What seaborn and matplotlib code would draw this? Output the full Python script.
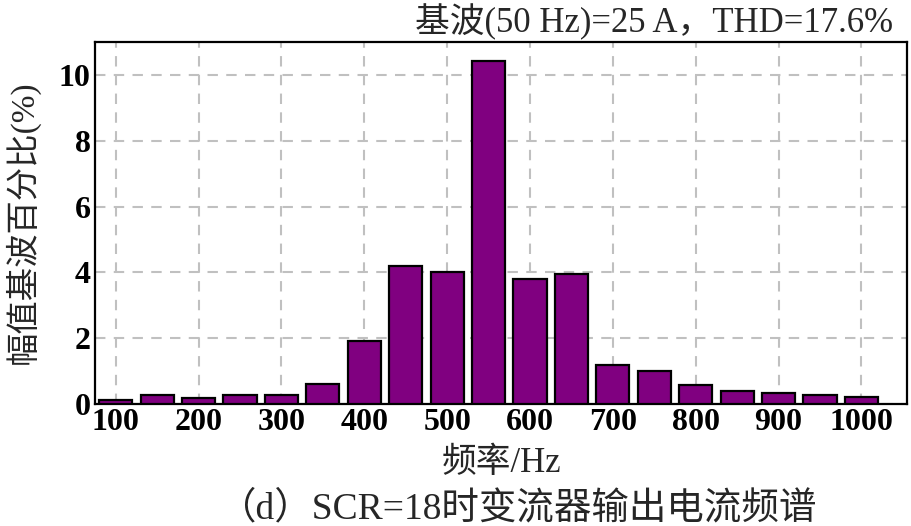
import numpy as np
import pandas as pd
import matplotlib
matplotlib.use('Agg')
import matplotlib.pyplot as plt
import seaborn as sns

# 데이터: 주파수별 고조파 크기 (기본파 대비 %)
freq_hz = [100, 150, 200, 250, 300, 350, 400, 450, 500, 550,
           600, 650, 700, 750, 800, 850, 900, 950, 1000]
amp_pct = [0.12, 0.27, 0.19, 0.27, 0.27, 0.61, 1.92, 4.19, 4.00, 10.42,
           3.79, 3.95, 1.18, 1.01, 0.58, 0.39, 0.34, 0.27, 0.22]
x_ticks = [100, 200, 300, 400, 500, 600, 700, 800, 900, 1000]
y_ticks = [0, 2, 4, 6, 8, 10]

title_txt = '基波(50 Hz)=25 A，THD=17.6%'
xlabel_txt = '频率/Hz'
ylabel_txt = '幅值基波百分比(%)'
caption_txt = '（d）SCR=18时变流器输出电流频谱'

sns.set_style('white')
fam = ['Liberation Serif', 'Noto Sans CJK SC']
plt.rcParams['font.family'] = fam
plt.rcParams['axes.unicode_minus'] = False

df = pd.DataFrame({'freq': freq_hz, 'amp': amp_pct})

fig = plt.figure(figsize=(9.11, 5.26), dpi=100)
ax = fig.add_axes([0.1043, 0.232, 0.8913, 0.688])

sns.barplot(data=df, x='freq', y='amp', native_scale=True, width=0.8,
            color='#800080', saturation=1, edgecolor='black', linewidth=1.6,
            ax=ax, zorder=3)

ax.set_xlim(75, 1055)
ax.set_ylim(0, 11)
ax.set_xticks(x_ticks)
ax.set_yticks(y_ticks)
ax.grid(True, color='#c0c0c0', linestyle=(0, (5, 4)), linewidth=1.5, zorder=0)
ax.set_axisbelow(True)

for s in ax.spines.values():
    s.set_linewidth(1.6)
    s.set_color('black')
    s.set_visible(True)

ax.tick_params(axis='both', direction='in', length=10, width=1.5,
               labelsize=23, pad=3, colors='black')
for lab in ax.get_xticklabels() + ax.get_yticklabels():
    lab.set_fontweight('bold')
    lab.set_family(fam)

ax.set_xlabel('')
ax.set_ylabel('')
fig.text(0.024, 0.578, ylabel_txt, rotation=90, ha='center', va='center',
         fontsize=24, family=fam)
fig.text(0.550, 0.118, xlabel_txt, ha='center', va='center', fontsize=25, family=fam)
fig.text(0.569, 0.034, caption_txt, ha='center', va='center', fontsize=27, family=fam)
fig.text(0.980, 0.958, title_txt, ha='right', va='center', fontsize=25, family=fam)

fig.savefig('out.png', dpi=100)
